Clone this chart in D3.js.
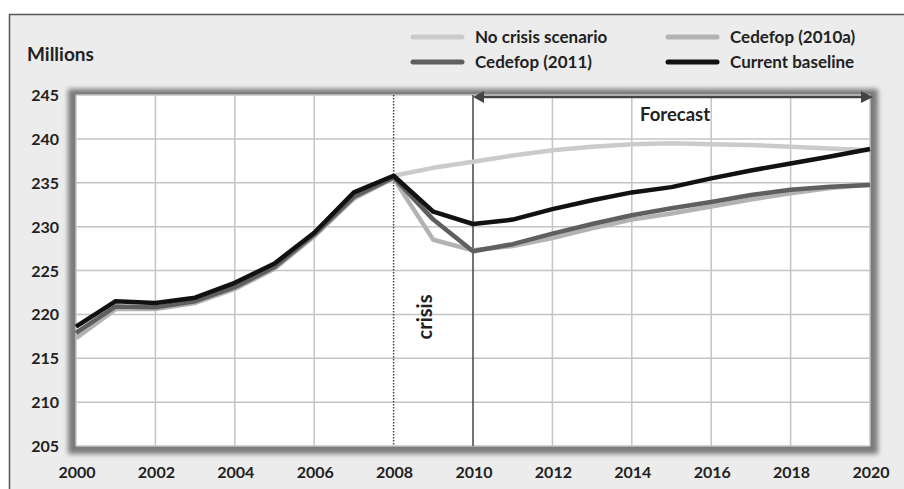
<!DOCTYPE html>
<html><head><meta charset="utf-8">
<script src="https://cdn.jsdelivr.net/npm/d3@7"></script>
<style>
html,body{margin:0;padding:0;background:#fff;}
svg{display:block;}
text{font-family:Lato,"Open Sans",sans-serif;font-weight:bold;fill:#222;}
</style></head>
<body>
<svg id="c" width="904" height="489"></svg>
<script>
const years = [2000,2001,2002,2003,2004,2005,2006,2007,2008,2009,2010,2011,2012,2013,2014,2015,2016,2017,2018,2019,2020];
const currentBaseline = [218.6,221.5,221.3,221.9,223.6,225.8,229.3,233.9,235.8,231.7,230.3,230.8,232.0,233.0,233.9,234.5,235.5,236.4,237.2,238.0,238.85];
const cedefop2011 = [217.9,220.9,220.8,221.5,223.1,225.4,229.1,233.4,235.6,230.8,227.2,228.0,229.2,230.3,231.3,232.1,232.8,233.6,234.2,234.55,234.75];
const cedefop2010a = [217.3,220.6,220.6,221.3,222.9,225.2,228.9,233.2,235.5,228.5,227.3,227.8,228.7,229.8,230.8,231.5,232.3,233.1,233.8,234.4,234.8];
const noCrisisYears = [2008,2009,2010,2011,2012,2013,2014,2015,2016,2017,2018,2019,2020];
const noCrisis = [235.8,236.7,237.4,238.1,238.7,239.1,239.4,239.5,239.4,239.3,239.1,238.9,238.7];
const yTicks = [205,210,215,220,225,230,235,240,245];
const xTicks = [2000,2002,2004,2006,2008,2010,2012,2014,2016,2018,2020];
const legendLabels = ["No crisis scenario","Cedefop (2011)","Cedefop (2010a)","Current baseline"];

const svg = d3.select("#c");
const L=76, R=870, T=95, B=446;
const x = d3.scaleLinear().domain([2000,2020]).range([L,R]);
const y = d3.scaleLinear().domain([205,245]).range([B,T]);

// background & frame
svg.append("rect").attr("x",0).attr("y",0).attr("width",904).attr("height",489).attr("fill","#fff");
svg.append("rect").attr("x",9.5).attr("y",14.5).attr("width",904).attr("height",480)
  .attr("fill","#ececec").attr("stroke","#555").attr("stroke-width",1.5);

// shadow
const defs = svg.append("defs");
const f = defs.append("filter").attr("id","blur").attr("x","-10%").attr("y","-10%").attr("width","120%").attr("height","120%");
f.append("feGaussianBlur").attr("stdDeviation",2.5);
svg.append("rect").attr("x",L-8).attr("y",T-6).attr("width",R-L+16).attr("height",B-T+14)
  .attr("fill","#7a7a7a").attr("filter","url(#blur)");
svg.append("rect").attr("x",L).attr("y",T).attr("width",R-L).attr("height",B-T).attr("fill","#fff");

// grid
svg.append("g").selectAll("line").data(yTicks).join("line")
  .attr("x1",L).attr("x2",R).attr("y1",d=>y(d)).attr("y2",d=>y(d))
  .attr("stroke","#c4c4c4").attr("stroke-width",1.5);
svg.append("g").selectAll("line").data(xTicks.filter(d=>d!==2008&&d!==2010)).join("line")
  .attr("x1",d=>x(d)).attr("x2",d=>x(d)).attr("y1",T).attr("y2",B)
  .attr("stroke","#c4c4c4").attr("stroke-width",1.5);

// crisis dotted line and forecast solid line
svg.append("line").attr("x1",x(2008)).attr("x2",x(2008)).attr("y1",T).attr("y2",B)
  .attr("stroke","#444").attr("stroke-width",1.5).attr("stroke-dasharray","1.5,1.5");
svg.append("line").attr("x1",x(2010)).attr("x2",x(2010)).attr("y1",T).attr("y2",B)
  .attr("stroke","#444").attr("stroke-width",1.5);

// axes labels
svg.append("g").selectAll("text").data(yTicks).join("text")
  .attr("x",59).attr("y",d=>y(d)+6).attr("text-anchor","end").attr("font-size",16).text(d=>d);
svg.append("g").selectAll("text").data(xTicks).join("text")
  .attr("x",d=>x(d)+1).attr("y",478).attr("text-anchor","middle").attr("font-size",16).text(d=>d);
svg.append("text").attr("x",27).attr("y",61).attr("font-size",19).text("Millions");

// lines
const line = d3.line().x(d=>x(d[0])).y(d=>y(d[1]));
const series = [
  {yrs:noCrisisYears, vals:noCrisis, color:"#cbcbcb", w:4.5},
  {yrs:years, vals:cedefop2010a, color:"#b3b3b3", w:4.5},
  {yrs:years, vals:cedefop2011, color:"#5f5f5f", w:4.5},
  {yrs:years, vals:currentBaseline, color:"#111", w:4.5}
];
series.forEach(s=>{
  svg.append("path").datum(s.yrs.map((yr,i)=>[yr,s.vals[i]]))
    .attr("d",line).attr("fill","none").attr("stroke",s.color).attr("stroke-width",s.w)
    .attr("stroke-linejoin","round");
});

// forecast arrow
const ay = 97;
svg.append("line").attr("x1",x(2010)+8).attr("x2",R-4).attr("y1",ay).attr("y2",ay)
  .attr("stroke","#444").attr("stroke-width",2.5);
svg.append("path").attr("d",`M${x(2010)},${ay} l11,-6 l0,12 z`).attr("fill","#444");
svg.append("path").attr("d",`M${R+3},${ay} l-12,-6 l0,12 z`).attr("fill","#444");
svg.append("text").attr("x",640).attr("y",121).attr("font-size",18.5).attr("fill","#444").text("Forecast");

// crisis label
svg.append("text").attr("transform",`translate(432,317) rotate(-90)`).attr("text-anchor","middle")
  .attr("font-size",20).attr("fill","#333").text("crisis");

// legend
const leg = [
  {x:413, y:37, c:"#cbcbcb", t:legendLabels[0]},
  {x:413, y:62, c:"#5f5f5f", t:legendLabels[1]},
  {x:668, y:37, c:"#b3b3b3", t:legendLabels[2]},
  {x:668, y:62, c:"#111", t:legendLabels[3]}
];
leg.forEach(l=>{
  svg.append("line").attr("x1",l.x).attr("x2",l.x+49).attr("y1",l.y).attr("y2",l.y)
    .attr("stroke",l.c).attr("stroke-width",5).attr("stroke-linecap","round");
  svg.append("text").attr("x",l.x+62).attr("y",l.y+6).attr("font-size",17).text(l.t);
});
</script>
</body></html>
